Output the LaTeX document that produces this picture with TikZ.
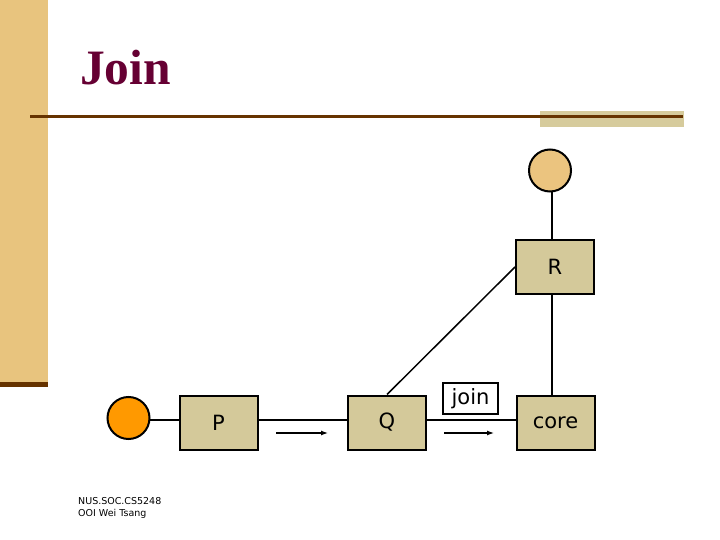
\documentclass[tikz,border=0pt]{standalone}
\usepackage{fontspec}
\setmainfont{Liberation Serif}
\newfontfamily\boxfont{DejaVu Sans}
\usetikzlibrary{arrows.meta}
\pgfdeclarelayer{background}
\pgfsetlayers{background,main}
\definecolor{bartan}{HTML}{E8C47E}
\definecolor{rulebrown}{HTML}{663300}
\definecolor{ruletan}{HTML}{D6CB9C}
\definecolor{boxfill}{HTML}{D4C99A}
\definecolor{titlered}{HTML}{660033}
\definecolor{orangefill}{HTML}{FF9900}
\definecolor{circtan}{HTML}{EBC47F}
\tikzset{
  relbox/.style={draw=black, line width=2pt, fill=boxfill, minimum width=78pt, minimum height=54pt, inner sep=0pt, font=\boxfont\fontsize{21}{24}\selectfont},
  relcirc/.style={circle, draw=black, line width=2pt, minimum size=42pt, inner sep=0pt},
  conn/.style={line width=1.8pt},
  flow/.style={line width=1.2pt, -{Latex[length=7pt,width=5pt]}},
}
\begin{document}
\begin{tikzpicture}[x=1pt,y=-1pt]
\useasboundingbox (0,0) rectangle (720,540);
% left bar
\fill[bartan] (0,0) rectangle (48,387);
\fill[rulebrown] (0,382) rectangle (48,387);
% title
\node[anchor=base west, inner sep=0pt, text=titlered, font=\fontsize{49.5}{55}\selectfont\bfseries] (title) at (80,85) {Join};
% top rule
\fill[ruletan] (540,111) rectangle (684,127);
\draw[rulebrown, line width=3pt] (30,117) -- (683,117);
% nodes
\node[relcirc, fill=orangefill] (orng) at (128.5,418) {};
\node[relbox] (P) at (218.5,422.5) {P};
\node[relbox] (Q) at (387,422.5) {Q};
\node[relbox] (core) at (555.5,422.5) {core};
\node[relbox] (R) at (555,267) {R};
\node[relcirc, fill=circtan] (top) at (550,170.5) {};
\coordinate (lane) at (0,420);
\coordinate (vert) at (552,0);
% connectors (behind nodes)
\begin{pgfonlayer}{background}
\draw[conn] (orng |- lane) -- (P |- lane);
\draw[conn] (P |- lane) -- (Q |- lane);
\draw[conn] (Q |- lane) -- (core |- lane);
\draw[conn] (vert |- top) -- (vert |- R);
\draw[conn] (vert |- R) -- (vert |- core);
\draw[line width=1.5pt] (Q.north) -- (R.west);
\end{pgfonlayer}
% flow arrows
\coordinate (a1s) at (276,433);
\coordinate (a1e) at (328,433);
\coordinate (a2s) at (444,433);
\coordinate (a2e) at (494,433);
\draw[flow] (a1s) -- (a1e);
\draw[flow] (a2s) -- (a2e);
% join label
\node[draw=black, line width=1.5pt, fill=white, minimum width=55pt, minimum height=31pt, inner sep=0pt, font=\boxfont\fontsize{21}{24}\selectfont] (joinlbl) at (470.5,398.5) {join};
% footer
\node[anchor=north west, inner sep=0pt, align=left, font=\boxfont\fontsize{9.5}{12}\selectfont] (foot) at (78,497.5) {NUS.SOC.CS5248\\OOI Wei Tsang};
\end{tikzpicture}
\end{document}
